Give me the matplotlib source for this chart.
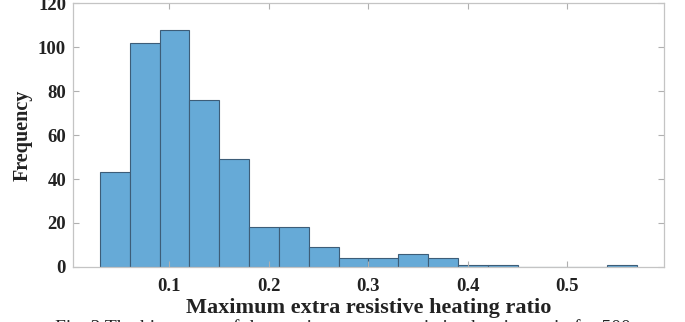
import matplotlib
matplotlib.use("Agg")
import matplotlib.pyplot as plt
import numpy as np

# histogram bins (edges) and counts
bin_edges = np.round(np.arange(0.03, 0.5701, 0.03), 2)
counts = [43, 102, 108, 76, 49, 18, 18, 9, 4, 4, 6, 4, 1, 1, 0, 0, 0, 1]
xticks = [0.1, 0.2, 0.3, 0.4, 0.5]
yticks = [0, 20, 40, 60, 80, 100, 120]

plt.rcParams['font.family'] = ['Liberation Serif', 'DejaVu Serif']
plt.rcParams['font.weight'] = 'bold'

fig = plt.figure(figsize=(6.85, 3.22), dpi=100)
ax = fig.add_axes([0.1066, 0.171, 0.8624, 0.819])

ax.hist(bin_edges[:-1], bins=bin_edges, weights=counts,
        color='#66aad7', edgecolor='#3d5d78', linewidth=0.8)

ax.set_xlim(0.003, 0.597)
ax.set_ylim(0, 120)
ax.set_xticks(xticks)
ax.set_xticklabels([str(t) for t in xticks])
ax.set_yticks(yticks)

for s in ax.spines.values():
    s.set_color('#c4c4c4')
    s.set_linewidth(0.9)
ax.tick_params(direction='in', length=4, color='#b0b0b0', top=True, right=True,
               labelsize=13.5)
ax.tick_params(axis='x', pad=8)
ax.tick_params(axis='y', pad=5)
for lab in ax.get_xticklabels() + ax.get_yticklabels():
    lab.set_fontweight('bold')
    lab.set_color('#222222')

ax.set_xlabel('Maximum extra resistive heating ratio', fontsize=16,
              fontweight='bold', color='#222222', labelpad=2)
ax.set_ylabel('Frequency', fontsize=14.5, fontweight='bold', color='#222222',
              labelpad=4)

# caption line cut off at the bottom edge of the picture
fig.text(0.5, 0.008, 'Fig. 3 The histogram of the maximum extra resistive heating ratio for 500',
         ha='center', va='top', fontsize=14, fontweight='normal', color='#222222')

plt.savefig('out.png', dpi=100)
